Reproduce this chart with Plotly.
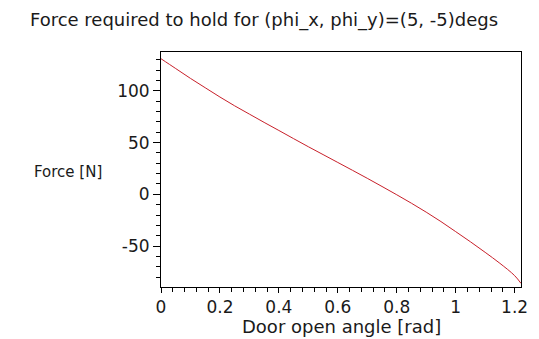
import plotly.graph_objects as go

# Door open angle [rad] and force [N]
angle = [0, 0.05, 0.1, 0.15, 0.2, 0.25, 0.3, 0.35, 0.4, 0.45, 0.5, 0.55, 0.6,
         0.65, 0.7, 0.75, 0.8, 0.85, 0.9, 0.95, 1.0, 1.05, 1.1, 1.15, 1.2, 1.2217]
force = [131, 121.5, 112, 103, 94, 85.5, 77.5, 69.5, 61.7, 53.8, 46, 38.4, 30.8,
         23.2, 15.5, 7.6, -0.4, -8.6, -17.2, -26.3, -36, -45.8, -56, -66.6, -78.5, -86]

x_ticks = [0, 0.2, 0.4, 0.6, 0.8, 1.0, 1.2]
x_labels = ["0", "0.2", "0.4", "0.6", "0.8", "1", "1.2"]
y_ticks = [-50, 0, 50, 100]
y_labels = ["-50", "0", "50", "100"]

FONT = "DejaVu Sans, Verdana, sans-serif"
INK = "#1a1a1a"

W, H = 539, 339
L, R, T, B = 161, 11, 52, 52
PW, PH = W - L - R, H - T - B

fig = go.Figure()
fig.add_trace(go.Scatter(x=angle, y=force, mode="lines",
                         line=dict(color="#c8202a", width=1), line_shape="spline",
                         showlegend=False, hoverinfo="skip"))

fig.update_layout(
    width=W, height=H,
    margin=dict(l=L, r=R, t=T, b=B),
    paper_bgcolor="white", plot_bgcolor="white",
    font=dict(family=FONT, size=16, color=INK),
    title=dict(text="Force required to hold for (phi_x, phi_y)=(5, -5)degs",
               x=264 / W, xanchor="center", y=1 - 20 / H, yanchor="middle",
               font=dict(family=FONT, size=18, color=INK)),
    xaxis=dict(range=[0, 1.2217], showgrid=False, zeroline=False,
               showline=True, linecolor="black", linewidth=1, mirror=True,
               ticks="outside", ticklen=5, tickcolor="black",
               tickvals=x_ticks, ticktext=x_labels,
               tickfont=dict(family=FONT, size=17, color=INK),
               minor=dict(ticks="outside", ticklen=4, dtick=0.04, tick0=0,
                          tickcolor="black", showgrid=False)),
    yaxis=dict(range=[-89.5, 137.5], showgrid=False, zeroline=False,
               showline=True, linecolor="black", linewidth=1, mirror=True,
               ticks="outside", ticklen=7, tickcolor="black",
               tickvals=y_ticks, ticktext=y_labels,
               tickfont=dict(family=FONT, size=17, color=INK),
               minor=dict(ticks="outside", ticklen=4, dtick=10, tick0=0,
                          tickcolor="black", showgrid=False)),
    annotations=[
        dict(text="Force [N]", xref="paper", yref="paper",
             x=(66 - L) / PW, y=(H - B - 172) / PH,
             xanchor="center", yanchor="middle", showarrow=False,
             font=dict(family=FONT, size=15, color=INK)),
        dict(text="Door open angle [rad]", xref="paper", yref="paper",
             x=(345 - L) / PW, y=(H - B - 326) / PH,
             xanchor="center", yanchor="middle", showarrow=False,
             font=dict(family=FONT, size=18, color=INK)),
    ],
)

fig.write_html("out.html")
